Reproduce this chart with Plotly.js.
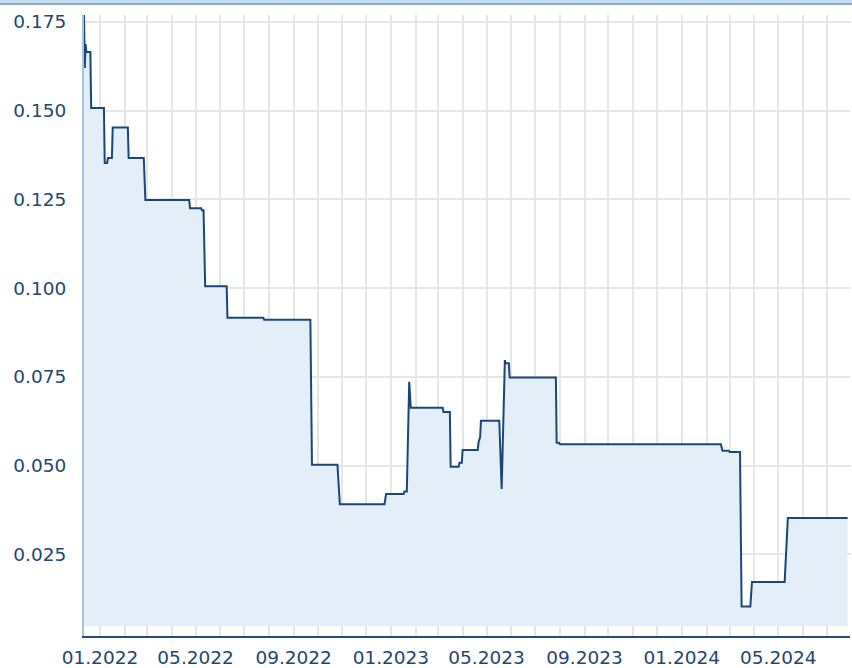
<!DOCTYPE html>
<html>
<head>
<meta charset="utf-8">
<script src="https://cdn.plot.ly/plotly-3.0.1.min.js"></script>
<style>
  html, body { margin: 0; padding: 0; background: #ffffff; }
  #topband { position: absolute; left: 0; top: 0; width: 852px; height: 3px; background: #c8dcf0; border-bottom: 2px solid #8eaacb; z-index: 5; }
  #chart { width: 852px; height: 668px; }
</style>
</head>
<body>
<div id="topband"></div>
<div id="chart"></div>
<script>
// Series (step-like daily rate series)
const dates = [
  '2021-12-12','2021-12-13','2021-12-14','2021-12-15','2021-12-20','2021-12-21',
  '2022-01-06','2022-01-07','2022-01-10','2022-01-11','2022-01-16','2022-01-17',
  '2022-02-05','2022-02-06','2022-02-25','2022-02-27','2022-04-23','2022-04-24',
  '2022-05-08','2022-05-09','2022-05-11','2022-05-13','2022-06-09','2022-06-10',
  '2022-07-25','2022-07-26','2022-09-22','2022-09-24','2022-10-26','2022-10-29',
  '2022-12-24','2022-12-26','2023-01-17','2023-01-18','2023-01-21','2023-01-24',
  '2023-01-26','2023-03-07','2023-03-08','2023-03-16','2023-03-17','2023-03-27',
  '2023-03-28','2023-03-31','2023-04-01','2023-04-20','2023-04-21','2023-04-23',
  '2023-04-24','2023-05-17','2023-05-20','2023-05-24','2023-05-25','2023-05-29',
  '2023-05-30','2023-07-27','2023-07-28','2023-07-31','2023-08-01','2024-02-19',
  '2024-02-21','2024-02-29','2024-03-01','2024-03-14','2024-03-16','2024-03-27',
  '2024-03-29','2024-05-09','2024-05-13','2024-07-27'
];
const values = [
  0.1769, 0.1620, 0.1687, 0.1665, 0.1665, 0.1507,
  0.1507, 0.1352, 0.1352, 0.1366, 0.1366, 0.1452,
  0.1452, 0.1366, 0.1366, 0.1248, 0.1248, 0.1225,
  0.1225, 0.1219, 0.1219, 0.1005, 0.1005, 0.0916,
  0.0916, 0.0911, 0.0911, 0.0502, 0.0502, 0.0391,
  0.0391, 0.0420, 0.0420, 0.0427, 0.0427, 0.0736,
  0.0663, 0.0663, 0.0651, 0.0651, 0.0497, 0.0497,
  0.0508, 0.0508, 0.0544, 0.0544, 0.0566, 0.0580,
  0.0626, 0.0626, 0.0434, 0.0797, 0.0788, 0.0788,
  0.0748, 0.0748, 0.0564, 0.0564, 0.0560, 0.0560,
  0.0542, 0.0542, 0.0538, 0.0538, 0.0103, 0.0103,
  0.0172, 0.0172, 0.0352, 0.0352
];
const yTicks = [0.025, 0.050, 0.075, 0.100, 0.125, 0.150, 0.175];
const yTickLabels = ['0.025', '0.050', '0.075', '0.100', '0.125', '0.150', '0.175'];
const xTickVals = ['2022-01-01','2022-05-01','2022-09-01','2023-01-01','2023-05-01','2023-09-01','2024-01-01','2024-05-01'];
const xTickLabels = ['01.2022','05.2022','09.2022','01.2023','05.2023','09.2023','01.2024','05.2024'];

// styling / geometry
const FILL_BASE = 0.0048;
const TEXT = '#24466f';
const GRID = '#e6e6e6';

const baseTrace = {
  x: [dates[0], dates[dates.length - 1]],
  y: [FILL_BASE, FILL_BASE],
  mode: 'lines',
  line: { width: 0, color: 'rgba(0,0,0,0)' },
  hoverinfo: 'skip',
  showlegend: false
};
const mainTrace = {
  x: dates,
  y: values,
  mode: 'lines',
  fill: 'tonexty',
  fillcolor: '#e3eef8',
  line: { color: '#1b4778', width: 2 },
  showlegend: false
};

const layout = {
  width: 852,
  height: 668,
  margin: { l: 84, r: 2, t: 15, b: 32 },
  paper_bgcolor: '#ffffff',
  plot_bgcolor: '#ffffff',
  font: { family: 'DejaVu Sans, Verdana, sans-serif', size: 18.5, color: TEXT },
  showlegend: false,
  xaxis: {
    type: 'date',
    range: ['2021-12-12', '2024-07-30'],
    tickmode: 'array',
    tickvals: xTickVals,
    ticktext: xTickLabels,
    showgrid: true,
    gridcolor: GRID,
    gridwidth: 2,
    minor: { dtick: 'M1', tick0: '2022-01-01', showgrid: true, gridcolor: GRID, gridwidth: 2 },
    showline: true,
    linecolor: '#2a4b72',
    linewidth: 2,
    ticks: '',
    ticklabelstandoff: 4,
    zeroline: false,
    tickfont: { size: 18.5, color: TEXT }
  },
  yaxis: {
    range: [0.0020, 0.1769],
    tickmode: 'array',
    tickvals: yTicks,
    ticktext: yTickLabels,
    showgrid: true,
    gridcolor: GRID,
    gridwidth: 2,
    showline: true,
    linecolor: '#a9c3dd',
    linewidth: 2,
    ticks: '',
    ticklabelstandoff: 12,
    zeroline: false,
    tickfont: { size: 18.5, color: TEXT }
  }
};

Plotly.newPlot('chart', [baseTrace, mainTrace], layout, { displayModeBar: false, staticPlot: true });
</script>
</body>
</html>
